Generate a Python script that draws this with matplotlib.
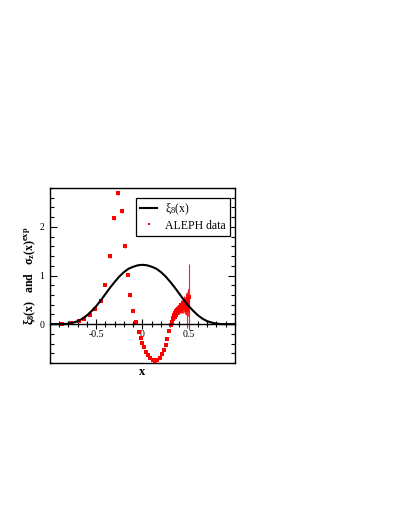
import numpy as np
import matplotlib as mpl
mpl.use('Agg')
import matplotlib.pyplot as plt
from matplotlib.lines import Line2D
from matplotlib.ticker import MultipleLocator


# xi_8(x) curve (symmetric about x=0)
x_curve = [-1.0, -0.95, -0.9, -0.85, -0.8, -0.75, -0.7, -0.65, -0.6, -0.55, -0.5,
           -0.45, -0.4, -0.35, -0.3, -0.25, -0.2, -0.15, -0.1, -0.05, 0.0,
           0.05, 0.1, 0.15, 0.2, 0.25, 0.3, 0.35, 0.4, 0.45, 0.5,
           0.55, 0.6, 0.65, 0.7, 0.75, 0.8, 0.85, 0.9, 0.95, 1.0]
xi_curve = [0.0, 0.0, 0.0, 0.0, 0.01, 0.03, 0.06, 0.11, 0.18, 0.27, 0.37,
            0.49, 0.62, 0.75, 0.87, 0.98, 1.07, 1.14, 1.18, 1.21, 1.22,
            1.21, 1.18, 1.14, 1.07, 0.98, 0.87, 0.75, 0.62, 0.49, 0.37,
            0.27, 0.18, 0.11, 0.06, 0.03, 0.01, 0.0, 0.0, 0.0, 0.0]

# ALEPH data points
x_data = [-0.87, -0.77, -0.69, -0.63, -0.57, -0.51, -0.45, -0.40, -0.355, -0.31,
          -0.27, -0.225, -0.19, -0.16, -0.13, -0.10, -0.065,
          -0.04, -0.02, 0.00, 0.02, 0.04, 0.06, 0.085, 0.11, 0.135, 0.16,
          0.185, 0.21, 0.23, 0.25, 0.27, 0.29,
          0.310, 0.318, 0.326, 0.333, 0.340, 0.347, 0.353, 0.359, 0.365, 0.371,
          0.376, 0.381, 0.386, 0.391, 0.396, 0.400, 0.404, 0.408, 0.412, 0.416,
          0.420, 0.424, 0.428, 0.432, 0.436, 0.440, 0.444, 0.448, 0.452, 0.456,
          0.460, 0.464, 0.468, 0.472, 0.476, 0.480, 0.484, 0.488, 0.492, 0.496,
          0.500]
y_data = [0.00, 0.02, 0.06, 0.11, 0.19, 0.31, 0.48, 0.81, 1.40, 2.19,
          2.69, 2.32, 1.60, 1.01, 0.59, 0.28, 0.04,
          -0.17, -0.29, -0.38, -0.47, -0.57, -0.64, -0.70, -0.74, -0.75, -0.73,
          -0.69, -0.62, -0.53, -0.42, -0.30, -0.15,
          -0.02, 0.04, 0.10, 0.13, 0.18, 0.15, 0.22, 0.19, 0.26, 0.22,
          0.30, 0.26, 0.32, 0.27, 0.34, 0.29, 0.36, 0.30, 0.38, 0.32,
          0.40, 0.33, 0.39, 0.35, 0.42, 0.34, 0.40, 0.37, 0.44, 0.35,
          0.41, 0.39, 0.47, 0.37, 0.45, 0.30, 0.43, 0.50, 0.40, 0.46,
          0.55]
y_err = [0.02, 0.02, 0.02, 0.02, 0.02, 0.02, 0.03, 0.03, 0.03, 0.04,
         0.04, 0.04, 0.03, 0.03, 0.03, 0.02, 0.02,
         0.02, 0.02, 0.02, 0.02, 0.02, 0.02, 0.02, 0.02, 0.02, 0.02,
         0.02, 0.02, 0.02, 0.02, 0.02, 0.02,
         0.02, 0.03, 0.03, 0.04, 0.04, 0.04, 0.05, 0.05, 0.05, 0.06,
         0.06, 0.06, 0.07, 0.07, 0.07, 0.08, 0.08, 0.08, 0.09, 0.09,
         0.10, 0.10, 0.11, 0.11, 0.12, 0.12, 0.13, 0.13, 0.14, 0.14,
         0.15, 0.16, 0.17, 0.18, 0.19, 0.37, 0.20, 0.22, 0.24, 0.27,
         0.68]

plt.rcParams['font.family'] = 'serif'
plt.rcParams['font.serif'] = ['Liberation Serif', 'DejaVu Serif']
plt.rcParams['mathtext.fontset'] = 'custom'
plt.rcParams['mathtext.rm'] = 'Liberation Serif'
plt.rcParams['mathtext.it'] = 'Liberation Serif'
plt.rcParams['mathtext.bf'] = 'Liberation Serif:bold'

fg = plt.figure(figsize=(4.09, 5.29), dpi=100)
ax = fg.add_axes([0.1222, 0.3138, 0.4523, 0.3308])

ax.plot(x_curve, xi_curve, color='black', lw=1.5, zorder=3)
ax.errorbar(x_data, y_data, yerr=y_err, fmt='s', ms=2.2, mew=0, color='#ff0000',
            ecolor='#ff2020', elinewidth=0.8, capsize=1.2, capthick=0.8, zorder=2)

ax.set_xlim(-1.0, 1.0)
ax.set_ylim(-0.8, 2.8)

# x axis drawn through y=0, box bottom drawn separately
ax.spines['bottom'].set_position(('data', 0))
ax.plot([0, 1], [0, 0], transform=ax.transAxes, color='black', lw=1.0, clip_on=False)
for s in ax.spines.values():
  s.set_linewidth(1.0)

ax.xaxis.set_minor_locator(MultipleLocator(0.1))
ax.yaxis.set_major_locator(MultipleLocator(1.0))
ax.yaxis.set_minor_locator(MultipleLocator(0.2))
ax.set_xticks([-0.5, 0, 0.5])
ax.set_xticklabels(['-0.5', '0', '0.5'])

ax.tick_params(axis='x', which='both', direction='inout', top=False, labelsize=7, pad=1)
ax.tick_params(axis='x', which='major', length=7, width=0.8)
ax.tick_params(axis='x', which='minor', length=4.5, width=0.8)
ax.tick_params(axis='y', which='both', direction='in', left=True, right=True, labelsize=7, pad=4)
ax.tick_params(axis='y', which='major', length=5, width=0.8)
ax.tick_params(axis='y', which='minor', length=3, width=0.8)

ax.set_xlabel('x', fontsize=9, fontweight='bold', labelpad=0)
ax.xaxis.set_label_coords(0.5, -0.015)
ax.set_ylabel(r'ξ$_\mathbf{8}$(x)   and   σ$_\mathbf{z}$(x)$^\mathbf{exp}$',
              fontsize=8.5, fontweight='bold')
ax.yaxis.set_label_coords(-0.065, 0.5)

handles = [Line2D([], [], color='black', lw=1.5),
           Line2D([], [], ls='none', marker='s', ms=2.0, mew=0, color='red')]
leg = ax.legend(handles, [r'ξ$_8$(x)', 'ALEPH data'], loc='upper right',
                bbox_to_anchor=(0.975, 0.945), fontsize=8.5, frameon=True,
                fancybox=False, edgecolor='black', framealpha=1, handlelength=1.45,
                borderpad=0.35, labelspacing=0.2, handletextpad=0.7, borderaxespad=0)
leg.get_frame().set_linewidth(0.9)

fg.savefig('out.png', dpi=100)
